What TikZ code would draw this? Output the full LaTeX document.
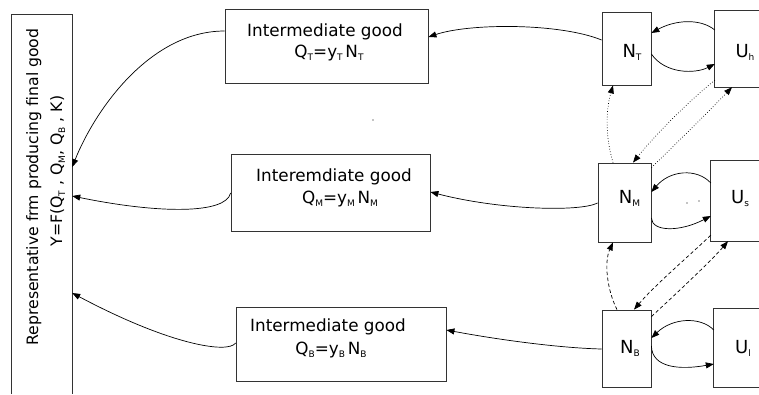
\documentclass[tikz,border=0pt]{standalone}
\usepackage{fontspec}
\setmainfont{DejaVu Sans}
\usetikzlibrary{calc,arrows.meta}
\newcommand\sbs[1]{\raisebox{-0.35ex}{\fontsize{9}{9}\selectfont #1}}
\begin{document}
\begin{tikzpicture}[x=1pt,y=-1pt,
  box/.style={draw=black!80,line width=0.8pt,inner sep=0pt,rectangle},
  openbox/.style={inner sep=0pt,rectangle},
  edge/.style={draw=black!80,line width=0.8pt},
  txt/.style={inner sep=0pt,anchor=base,font=\fontsize{16.8}{16.8}\selectfont},
  rtxt/.style={inner sep=0pt,anchor=base,rotate=90,font=\fontsize{15.7}{15.7}\selectfont},
  big/.style={inner sep=0pt,anchor=base,font=\fontsize{18}{18}\selectfont},
  arr/.style={line width=0.7pt,-{Triangle[length=8pt,width=6pt]}},
  dotarr/.style={arr,dotted},
  dasharr/.style={arr,dash pattern=on 3.5pt off 2.5pt}]
\useasboundingbox (0,0) rectangle (759,394);

% left box (open at bottom)
\node[openbox,minimum width=60,minimum height=379] (F) at (42,204.5) {};
\draw[edge] (F.south west) -- (F.north west) -- (F.north east) -- (F.south east);
\node[rtxt] (F1) at (38,187) {Representative frm producing final good};
\node[rtxt] (F2) at (62,171) {Y=F(Q\sbs{T} , Q\sbs{M}, Q\sbs{B} , K)};

% intermediate goods
\node[box,minimum width=203,minimum height=74] (T) at (326.5,46) {};
\node[box,minimum width=199,minimum height=77] (M) at (330.5,192.5) {};
\node[box,minimum width=210,minimum height=74] (B) at (341,344) {};
\node[txt] (Tt1) at (325,36) {Intermediate good};
\node[txt] (Tt2) at (329,57) {Q\sbs{T}=y\sbs{T}\,N\sbs{T}};
\node[txt] (Mt1) at (334,181) {Interemdiate good};
\node[txt] (Mt2) at (340,203) {Q\sbs{M}=y\sbs{M}\,N\sbs{M}};
\node[txt] (Bt1) at (328,331) {Intermediate good};
\node[txt] (Bt2) at (331,354) {Q\sbs{B}=y\sbs{B}\,N\sbs{B}};

% N boxes
\node[box,minimum width=49,minimum height=73] (NT) at (626.5,48.5) {};
\node[box,minimum width=53,minimum height=79] (NM) at (624.5,202.5) {};
\node[box,minimum width=49,minimum height=77] (NB) at (626.5,348.5) {};
\node[big] (NTl) at (632,57) {N\sbs{T}};
\node[big] (NMl) at (629.5,203) {N\sbs{M}};
\node[big] (NBl) at (630,353) {N\sbs{B}};

% U boxes (open at right)
\node[openbox,minimum width=44,minimum height=76] (Uh) at (737,49) {};
\node[openbox,minimum width=48,minimum height=80] (Us) at (735,201) {};
\node[openbox,minimum width=45,minimum height=78] (Ul) at (736.5,348) {};
\foreach \u in {Uh,Us,Ul}
  \draw[edge] (\u.north east) -- (\u.north west) -- (\u.south west) -- (\u.south east);
\node[big] (Uhl) at (745,57) {U\sbs{h}};
\node[big] (Usl) at (740,203) {U\sbs{s}};
\node[big] (Ull) at (743,353) {U\sbs{l}};

% N -> intermediate goods
\draw[arr] ($(NT.west)+(0,-8.5)$) .. controls (560,23) and (470,23) .. ($(T.east)+(0,-9)$);
\draw[arr] ($(NM.west)+(0,0.5)$) .. controls (580,212) and (500,210) .. ($(M.east)+(0,-0.5)$);
\draw[arr] ($(NB.west)+(0,0.5)$) .. controls (560,348) and (500,340) .. ($(B.east)+(0,-14)$);

% intermediate goods -> final good
\draw[arr] ($(T.west)+(0,-15)$) .. controls (150,31) and (95,110) .. ($(F.east)+(0,-37.5)$);
\draw[arr] ($(M.west)+(0,0.5)$) .. controls (226,214) and (160,214) .. ($(F.east)+(0,-8.5)$);
\draw[arr] ($(B.west)+(0,-1)$) .. controls (228,354) and (170,345) .. ($(F.east)+(0,88.5)$);

% N <-> U loops
\draw[arr] ($(Uh.west)+(0,-19)$) .. controls (700,18) and (675,20) .. ($(NT.east)+(0,-15.5)$);
\draw[arr] ($(NT.east)+(0,5.5)$) .. controls (665,74) and (695,74) .. ($(Uh.west)+(0,15)$);
\draw[arr] ($(Us.west)+(0,-18)$) .. controls (697,168) and (670,170) .. ($(NM.east)+(0,-10.5)$);
\draw[arr] ($(NM.east)+(0,15.5)$) .. controls (652,232) and (680,232) .. ($(Us.west)+(0,15)$);
\draw[arr] ($(Ul.west)+(0,-18)$) .. controls (700,316) and (672,318) .. ($(NB.east)+(0,-10.5)$);
\draw[arr] ($(NB.east)+(0,-2.5)$) .. controls (652,368) and (680,370) .. ($(Ul.west)+(0,16)$);

% dotted links between T and M level
\draw[dotarr] ($(NM.north)+(-11.5,0)$) .. controls (605,135) and (606,110) .. ($(NT.south)+(-13.5,0)$);
\draw[dotarr] ($(Uh.south west)+(0,-7)$) .. controls (690,100) and (655,135) .. ($(NM.north)+(8.5,0)$);
\draw[dotarr] ($(NM.north east)+(0,5)$) .. controls (680,140) and (715,105) .. ($(Uh.south)+(-5,0)$);

% dashed links between M and B level
\draw[dasharr] ($(NB.north)+(-9.5,0)$) .. controls (607,290) and (604,262) .. ($(NM.south)+(-11.5,0)$);
\draw[dasharr] ($(Us.south west)+(0,-6)$) .. controls (690,255) and (655,285) .. ($(NB.north)+(7.5,0)$);
\draw[dasharr] ($(NB.north east)+(0,7)$) .. controls (680,290) and (712,260) .. ($(Us.south)+(-7,0)$);

% stray specks
\fill (373,120) circle[radius=0.6];
\fill (687,203) circle[radius=0.6];
\fill (699,201) circle[radius=0.6];
\end{tikzpicture}
\end{document}
